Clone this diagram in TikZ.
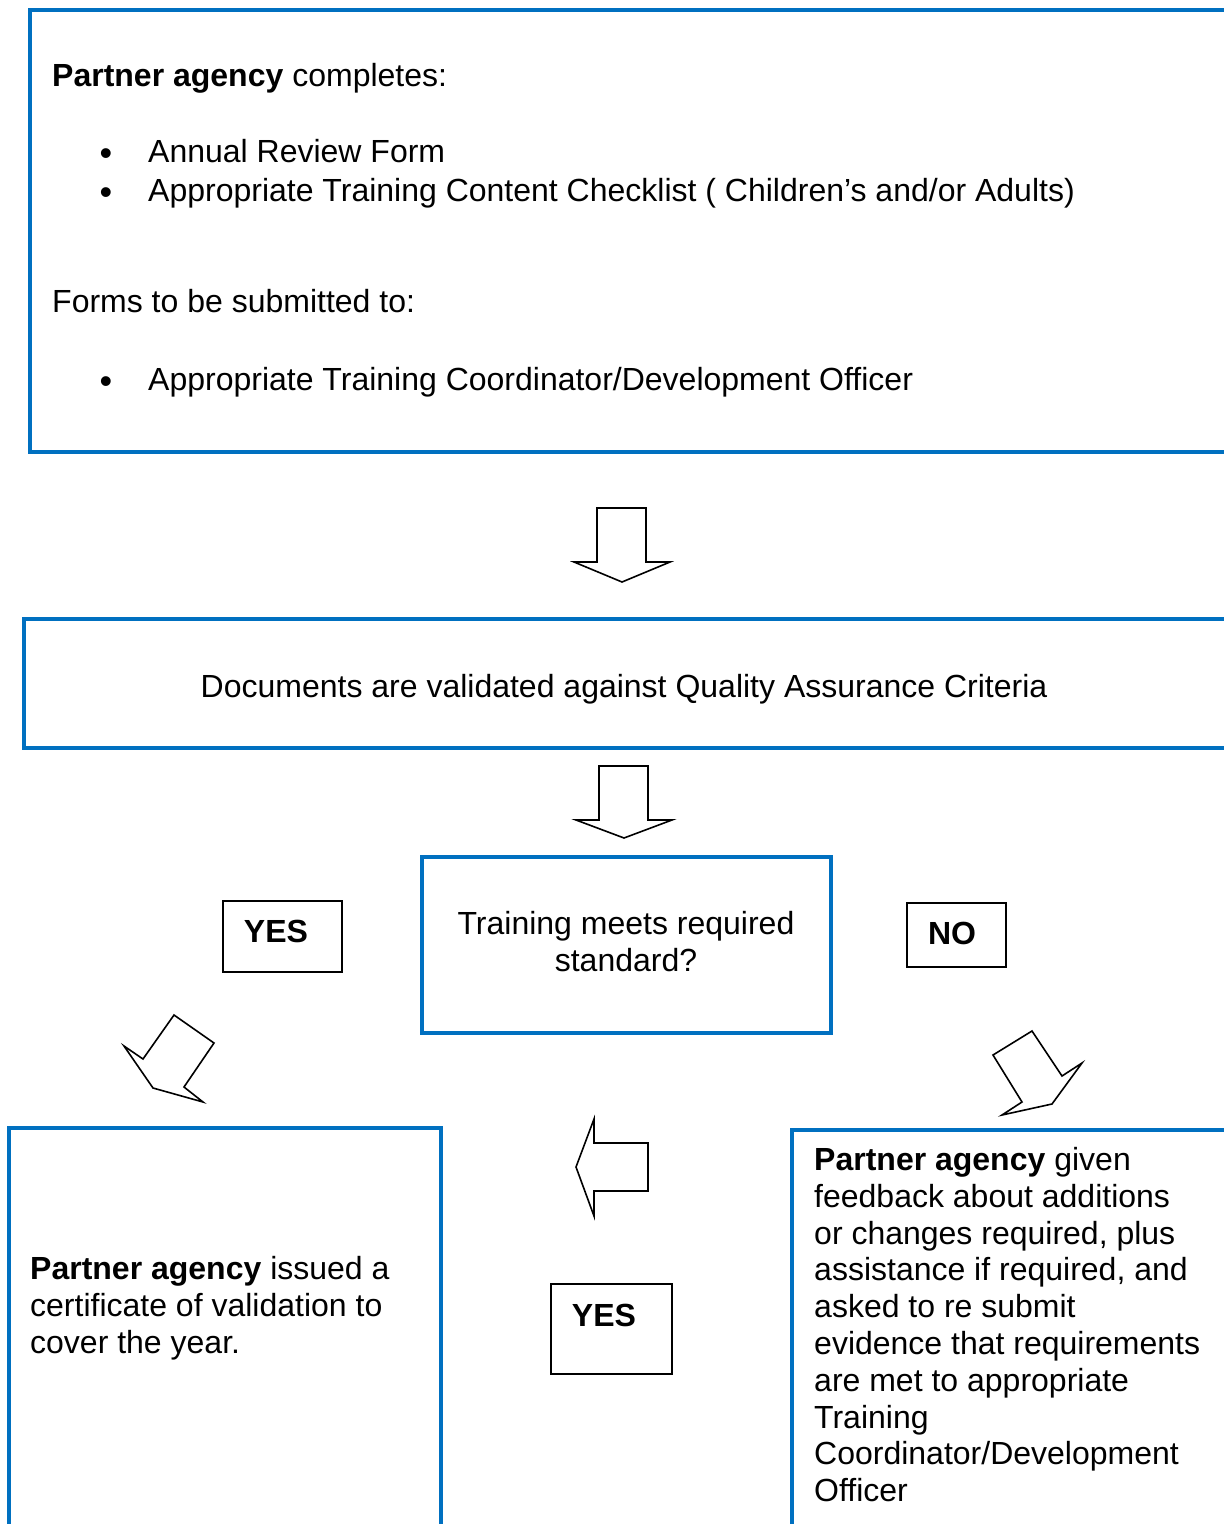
\documentclass[tikz,border=0pt]{standalone}
\usepackage{fontspec}
\setmainfont{Liberation Sans}
\definecolor{qblue}{RGB}{0,112,192}
\begin{document}
\begin{tikzpicture}[x=1pt,y=-1pt,
  bluebox/.style={draw=qblue, line width=4pt, anchor=north west, inner sep=0pt, outer sep=0pt},
  tagbox/.style={draw=black, line width=1.5pt, anchor=north west, inner sep=0pt, outer sep=0pt},
  blockarrow/.style={draw=black, line width=1.6pt, fill=white, line join=miter},
  txt/.style={font=\fontsize{32pt}{36.8pt}\selectfont, inner sep=0pt},
  bul/.style={font=\fontsize{36pt}{36pt}\selectfont, inner sep=0pt, anchor=center},
  lbl/.style={font=\fontsize{32pt}{36.8pt}\selectfont\bfseries, inner sep=0pt, anchor=base}]
\useasboundingbox (0,0) rectangle (1224,1524);
\clip (0,0) rectangle (1224,1524);

% boxes
\node[bluebox, minimum width=1201pt, minimum height=442pt] (top) at (30,10) {};
\node[bluebox, minimum width=1207pt, minimum height=129pt] (valid) at (24,619) {};
\node[bluebox, minimum width=409pt, minimum height=176pt] (dec) at (422,857) {};
\node[bluebox, minimum width=432pt, minimum height=480pt] (cert) at (9,1128) {};
\node[bluebox, minimum width=440pt, minimum height=480pt] (feed) at (792,1130) {};

\node[tagbox, minimum width=119pt, minimum height=71pt] (yes1) at (223,901) {};
\node[tagbox, minimum width=99pt, minimum height=64pt] (no) at (907,903) {};
\node[tagbox, minimum width=121pt, minimum height=90pt] (yes2) at (551,1284) {};

% texts top box
\node[txt, anchor=base west] (t1) at (52,86) {\textbf{Partner agency} completes:};
\node[bul] (b1) at (106,157) {•};
\node[txt, anchor=base west] (t2) at (148,162) {Annual Review Form};
\node[bul] (b2) at (106,196) {•};
\node[txt, anchor=base west] (t3) at (148,201) {Appropriate Training Content Checklist ( Children’s and/or Adults)};
\node[txt, anchor=base west] (t4) at (52,312) {Forms to be submitted to:};
\node[bul] (b3) at (106,385) {•};
\node[txt, anchor=base west] (t5) at (148,390) {Appropriate Training Coordinator/Development Officer};

\node[txt, anchor=base] (t6) at (624,697) {Documents are validated against Quality Assurance Criteria};

\node[txt, anchor=base] (t7) at (626,934) {Training meets required};
\node[txt, anchor=base] (t8) at (626,971) {standard?};

\node[lbl] (ly1) at (276,942) {YES};
\node[lbl] (ln) at (952,944) {NO};
\node[lbl] (ly2) at (604,1326) {YES};

\node[txt, anchor=north west, align=left] (t9) at (30,1256)
  {\textbf{Partner agency} issued a\\certificate of validation to\\cover the year.};
\node[txt, anchor=north west, align=left] (t10) at (814,1147)
  {\textbf{Partner agency} given\\feedback about additions\\or changes required, plus\\assistance if required, and\\asked to re submit\\evidence that requirements\\are met to appropriate\\Training\\Coordinator/Development\\Officer};

% block arrows
\draw[blockarrow] (597,508) -- (646,508) -- (646,562) -- (670,562) -- (622,582) -- (574,562) -- (597,562) -- cycle;
\draw[blockarrow] (599,766) -- (648,766) -- (648,820) -- (672,820) -- (624,838) -- (576,820) -- (599,820) -- cycle;
\draw[blockarrow] (174,1015) -- (214,1043) -- (184,1087) -- (203,1102) -- (153,1088) -- (124,1046) -- (143,1059) -- cycle;
\draw[blockarrow] (993,1055) -- (1032,1031) -- (1062,1076) -- (1082,1063) -- (1052,1104) -- (1002,1115) -- (1022,1102) -- cycle;
\draw[blockarrow] (576,1167) -- (594,1119) -- (594,1143) -- (648,1143) -- (648,1191) -- (594,1191) -- (594,1216) -- cycle;
\end{tikzpicture}
\end{document}
